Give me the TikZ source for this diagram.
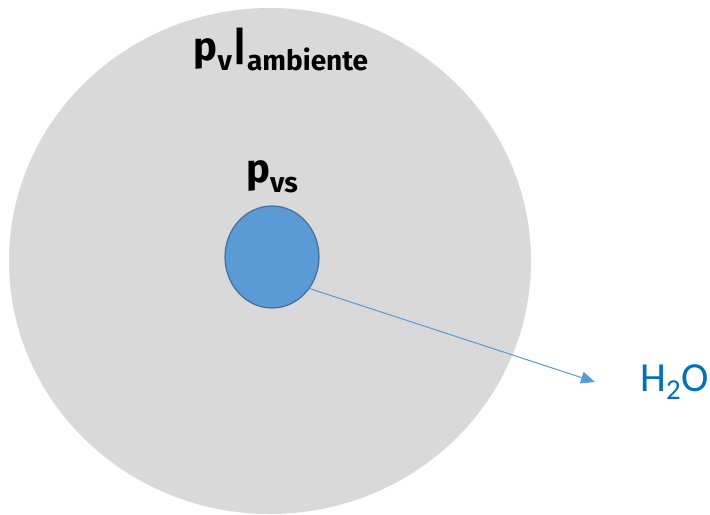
\documentclass[tikz,border=0pt]{standalone}
\usepackage{fontspec}
\setmainfont{Carlito}
\newfontfamily\labelfont{Fira Sans}
\usetikzlibrary{positioning,arrows.meta,shapes.geometric}
\definecolor{ambgray}{HTML}{D9D9D9}
\definecolor{dropblue}{HTML}{5B9BD5}
\definecolor{dropedge}{HTML}{41719C}
\definecolor{vapourblue}{HTML}{0070C0}
\newcommand{\lowsub}[1]{\raisebox{-7.5pt}{\fontsize{21}{24}\selectfont #1}}

\begin{document}
\begin{tikzpicture}[
  x=0.75pt, y=-0.75pt,
  outer/.style={ellipse, fill=ambgray, minimum width=391.5pt, minimum height=379.5pt, inner sep=0pt},
  drop/.style={ellipse, draw=dropedge, line width=0.9pt, fill=dropblue, minimum width=70.5pt, minimum height=76.5pt, inner sep=0pt},
  plabel/.style={inner sep=0pt, font=\labelfont\bfseries\fontsize{30}{36}\selectfont},
  vapour/.style={inner sep=0pt, anchor=west, text=vapourblue, font=\fontsize{31}{36}\selectfont},
  arrow/.style={-{Triangle[length=10.5pt, width=9pt]}, draw=dropblue, fill=dropblue, line width=0.75pt}
]

\useasboundingbox (0,0) rectangle (710,514);

\node[outer](ambient) at (270,261){};
\node[drop](water) at (272,257){};
\node[plabel, above=9pt of water](pvs){p\lowsub{vs}};
\node[plabel](pamb) at (281,50){p\lowsub{v}|\lowsub{ambiente}};
\node[vapour](vapor) at (640,382){H\textsubscript{2}O};
\coordinate (tip) at (595,382);

\draw[arrow] (water.-40) -- (tip);

\end{tikzpicture}
\end{document}
